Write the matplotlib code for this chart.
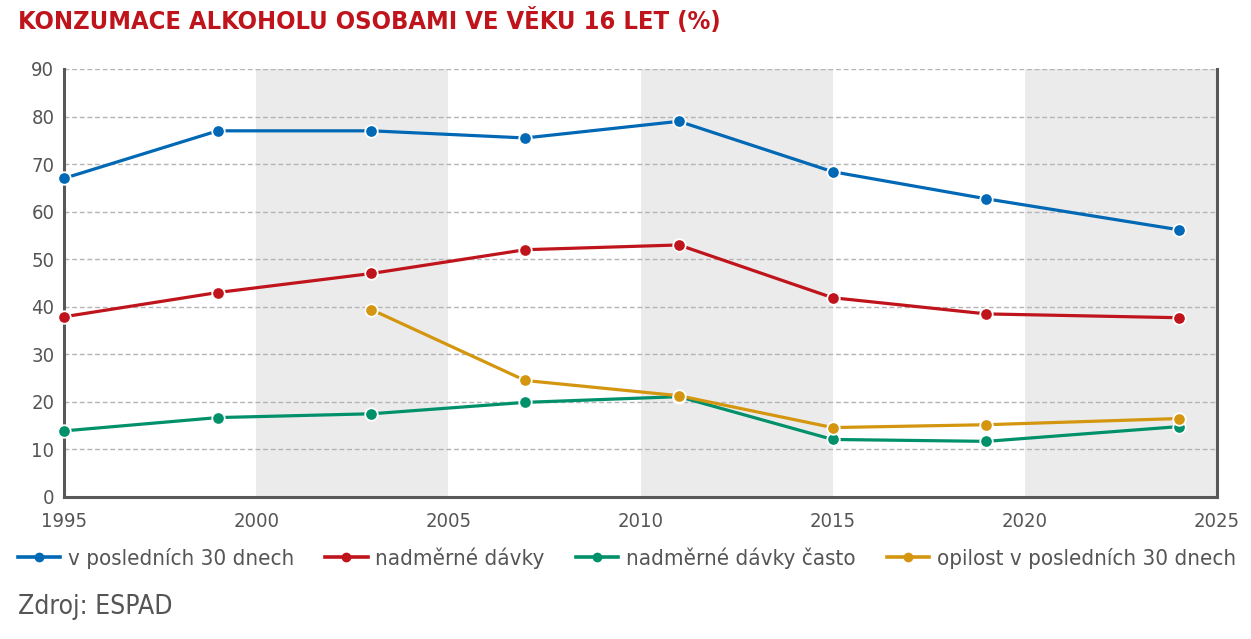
import matplotlib
matplotlib.use('Agg')
from matplotlib import pyplot as plt
from matplotlib.lines import Line2D

# data
years = [1995, 1999, 2003, 2007, 2011, 2015, 2019, 2024]
posl30 = [67, 77, 77, 75.5, 79, 68.4, 62.7, 56.2]
nadmerne = [37.9, 43, 47, 52, 53, 41.9, 38.5, 37.7]
nadmerne_casto = [13.9, 16.7, 17.5, 19.9, 21.1, 12.1, 11.7, 14.8]
opil_years = [2003, 2007, 2011, 2015, 2019, 2024]
opilost = [39.4, 24.5, 21.3, 14.6, 15.2, 16.5]

labels = ['v posledních 30 dnech', 'nadměrné dávky', 'nadměrné dávky často',
          'opilost v posledních 30 dnech']
colors = ['#0068b4', '#c0141c', '#00916b', '#d4960f']
bands = [(2000, 2005), (2010, 2015), (2020, 2025)]

txtcol = '#555555'
cond = dict(family='DejaVu Sans', stretch='condensed')

fig = plt.figure(figsize=(12.51, 6.39), dpi=100)
ax = fig.add_axes([64/1251, 1 - 497/639, (1217-64)/1251, (497-69)/639])

for a, b in bands:
    ax.axvspan(a, b, color='#ebebeb', lw=0, zorder=0)

ax.set_ylim(0, 90)
ax.set_xlim(1995, 2025)
ax.set_yticks(range(0, 91, 10))
ax.set_xticks(range(1995, 2026, 5))
ax.yaxis.grid(True, ls=(0, (3.5, 2)), color='#b4b4b4', lw=1.0, zorder=1)
ax.set_axisbelow(True)

series = [(years, posl30), (years, nadmerne), (years, nadmerne_casto), (opil_years, opilost)]
for (xs, ys), c in zip(series, colors):
    ax.plot(xs, ys, color=c, lw=2.3, marker='o', ms=9, mfc=c, mec='white',
            mew=1.3, zorder=3, clip_on=False)

for s in ['left', 'bottom', 'right']:
    ax.spines[s].set_color('#585858')
    ax.spines[s].set_linewidth(2.2)
ax.spines['top'].set_visible(False)
ax.tick_params(length=0, colors=txtcol)
ax.tick_params(axis='y', pad=7)
ax.tick_params(axis='x', pad=11)
for t in ax.get_xticklabels() + ax.get_yticklabels():
    t.set_fontfamily('DejaVu Sans')
    t.set_fontstretch('condensed')
    t.set_fontsize(14.5)

fig.text(18/1251, 1 - 21/639, 'KONZUMACE ALKOHOLU OSOBAMI VE VĚKU 16 LET (%)',
         fontweight='bold', fontsize=18.3, color='#c0141c',
         va='center', ha='left', **cond)

handles = [Line2D([0], [0], color=c, lw=2.6, marker='o', ms=6, mfc=c, mec=c)
           for c in colors]
leg = fig.legend(handles, labels, loc='center left', bbox_to_anchor=(18/1251, 1 - 558/639),
                 ncol=4, frameon=False, handlelength=1.9, handletextpad=0.35,
                 columnspacing=1.4, borderaxespad=0, borderpad=0,
                 prop={'family': 'DejaVu Sans', 'stretch': 'condensed', 'size': 16})
for t in leg.get_texts():
    t.set_color(txtcol)

fig.text(18/1251, 1 - 607/639, 'Zdroj: ESPAD', fontsize=19, color=txtcol,
         va='center', ha='left', **cond)

fig.savefig('out.png', dpi=100)
